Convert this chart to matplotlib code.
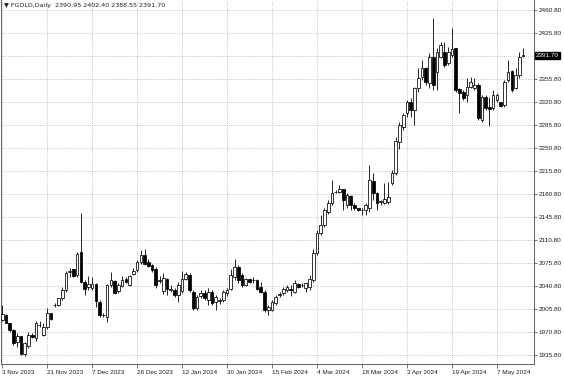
import numpy as np
import matplotlib
matplotlib.use("Agg")
import matplotlib.pyplot as plt

# daily OHLC, one row per bar
opens = [1989, 1997, 1984, 1974, 1955, 1964, 1938, 1950, 1966, 1961,
         1981.5, 1966, 1979, 1999, 2012, 2012, 2022, 2035, 2062.6, 2066,
         2058, 2093, 2047, 2039, 2037, 2044, 2017, 1997, 1994, 2042,
         2048, 2033, 2041, 2052, 2042, 2059, 2065, 2078, 2088, 2078,
         2072.5, 2066, 2049, 2033, 2051, 2035, 2034.5, 2027, 2033, 2052,
         2058, 2032, 2007, 2025, 2030, 2019, 2032, 2017, 2018, 2019,
         2030, 2036, 2055, 2070, 2058, 2043, 2051, 2050, 2050, 2040,
         2032, 2004, 2005, 2014.5, 2027, 2030, 2035, 2036, 2032, 2044,
         2042, 2037, 2040, 2050, 2090.6, 2121, 2133.7, 2154, 2167.7, 2184,
         2184.4, 2188, 2164, 2177.8, 2164, 2159, 2156.5, 2156.5, 2160, 2201,
         2182, 2169, 2167.7, 2169, 2197, 2212, 2260.5, 2283, 2303.6, 2321.3,
         2308.6, 2341.6, 2359.4, 2372, 2349.2, 2389.8, 2367, 2389.8, 2397.4, 2379.6,
         2392.3, 2402.5, 2340.6, 2336.5, 2331.5, 2344, 2341.6, 2346.7, 2293.4, 2329,
         2313.7, 2311.2, 2323.9, 2320.3, 2316.2, 2354.3, 2368, 2341.6, 2361.9, 2390.95]
highs = [2012, 1998, 1985, 1975, 1969, 1965, 1956, 1971, 1969, 1988,
         1988, 1985, 2008, 2000, 2014.5, 2023, 2039, 2064, 2067.7, 2067,
         2093, 2152, 2050, 2056, 2055, 2045, 2019, 1999, 2044, 2062,
         2050, 2045, 2056, 2054, 2058, 2068, 2081, 2096, 2097, 2082,
         2075, 2069, 2056, 2061, 2053, 2042, 2037, 2047, 2063, 2062,
         2060, 2034, 2027, 2034, 2034, 2037, 2035, 2027, 2022, 2035,
         2037, 2066, 2082, 2073, 2060, 2053, 2053, 2054, 2052, 2047,
         2035, 2012, 2019, 2027, 2032, 2040, 2042, 2043, 2050, 2046,
         2045, 2047, 2058, 2097, 2126, 2149, 2159, 2172, 2202, 2187,
         2194, 2189, 2182, 2179, 2166.7, 2160, 2159, 2166.7, 2225, 2212,
         2184, 2171.7, 2197, 2199.6, 2217, 2268, 2290, 2303.6, 2324, 2326.4,
         2344, 2372, 2384.7, 2374.6, 2394.9, 2448, 2402.5, 2412.6, 2412.6, 2405,
         2432.9, 2402.5, 2341.6, 2339, 2356.8, 2359.4, 2356.8, 2349.2, 2331.5, 2331.5,
         2329, 2339, 2334, 2321.3, 2354.3, 2384.7, 2369.5, 2372, 2397.4, 2402.4]
lows = [1987, 1984, 1971, 1951, 1948, 1936, 1935, 1946, 1961, 1957.6,
        1978, 1964, 1976, 1989, 2009.4, 2010, 2019.5, 2032, 2055, 2055,
        2055, 2045, 2027, 2035, 2035, 2009, 1994, 1993, 1986.5, 2039,
        2028, 2030, 2039, 2046, 2041, 2057.6, 2062.7, 2075, 2072.7, 2069,
        2062, 2037, 2045, 2029, 2027, 2031, 2024.5, 2017, 2030, 2050,
        2032, 2004, 2004, 2022, 2020, 2012, 2012, 2004, 2014, 2017,
        2025, 2034, 2050, 2045, 2040, 2041, 2045, 2045, 2034, 2030,
        2001, 1997, 2003, 2012, 2024, 2027, 2031, 2025, 2030, 2038,
        2039, 2032, 2035, 2047.5, 2088, 2118, 2131, 2151, 2164, 2182,
        2182, 2156.5, 2159, 2156.5, 2156.5, 2155, 2149, 2149, 2154, 2172,
        2156.5, 2164, 2166, 2166, 2194.5, 2210, 2250, 2278.2, 2298.5, 2298.5,
        2285.8, 2336.5, 2354.3, 2346.7, 2341.6, 2339, 2339, 2387.3, 2374.6, 2377,
        2389.8, 2336.5, 2303.6, 2323.9, 2321.3, 2341.6, 2339, 2293.4, 2290.9, 2308.6,
        2284.3, 2308.6, 2321.3, 2313.7, 2313.7, 2351.7, 2336.5, 2340, 2356.8, 2388.55]
closes = [1998, 1985, 1974, 1954, 1964, 1938, 1953.5, 1966, 1963, 1984,
          1981, 1979, 1999, 1990, 2012.5, 2022, 2035, 2061, 2063, 2056,
          2089, 2047, 2036, 2044, 2044, 2018, 1997, 1996, 2042, 2050,
          2030, 2042, 2050, 2047.5, 2056, 2064, 2078, 2088, 2075, 2071,
          2065, 2042, 2050, 2053, 2036, 2035.5, 2027.5, 2042, 2052, 2059,
          2034, 2007, 2024, 2030, 2022, 2032, 2015, 2024, 2019, 2032,
          2035, 2058, 2070, 2050, 2042, 2051, 2047, 2050.5, 2036, 2032,
          2004, 2009, 2017, 2024.6, 2029, 2036, 2040, 2035, 2045, 2040,
          2042.5, 2045, 2052, 2090.6, 2121, 2133.7, 2156.5, 2167.7, 2183, 2184.5,
          2188, 2171.7, 2179.3, 2164, 2159, 2156.5, 2157, 2164, 2202, 2182,
          2166.7, 2169.5, 2172.7, 2176.8, 2212.3, 2262, 2285.8, 2301, 2321.3, 2308.6,
          2341.6, 2356.8, 2372, 2351.7, 2389.8, 2346.7, 2397.4, 2407.5, 2377, 2397.4,
          2401, 2339, 2334, 2326.4, 2344, 2351.7, 2346.7, 2296, 2329, 2311.2,
          2309.7, 2331.5, 2331.5, 2315.2, 2351.7, 2367, 2339, 2361.9, 2389.8, 2391.7]

date_labels = ["3 Nov 2023", "21 Nov 2023", "7 Dec 2023", "26 Dec 2023",
               "12 Jan 2024", "30 Jan 2024", "15 Feb 2024", "4 Mar 2024",
               "18 Mar 2024", "3 Apr 2024", "19 Apr 2024", "7 May 2024"]
date_label_bars = [0, 12, 24, 36, 48, 60, 72, 84, 96, 108, 120, 132]
price_ticks = [1935.8 + 35 * k for k in range(16)]
last_price = 2391.70
header = "\u25bc FGOLD,Daily  2390.95 2402.40 2388.55 2391.70"

FS = 4.6
GRID = '#b0b0b0'
plt.rcParams['font.family'] = ['Liberation Sans', 'DejaVu Sans']

o = np.array(opens); h = np.array(highs); l = np.array(lows); c = np.array(closes)
idx = np.arange(len(o))

fig = plt.figure(figsize=(5.64, 3.76), dpi=100)
ax = fig.add_axes([0.5 / 564, 12 / 376, 533.5 / 564, 364 / 376])

# grid
for p in price_ticks:
    ax.axhline(p, color=GRID, lw=0.6, ls=(0, (1, 1.6)), zorder=0)
for b in date_label_bars:
    ax.axvline(b, color=GRID, lw=0.6, ls=(0, (1, 1.6)), zorder=0)

# candles
ax.vlines(idx, l, h, color='black', lw=0.6, zorder=2)
body_lo = np.minimum(o, c)
body_h = np.maximum(np.abs(c - o), 0.01)
fills = ['white' if cc >= oo else 'black' for oo, cc in zip(o, c)]
ax.bar(idx, body_h, bottom=body_lo, width=0.72, color=fills,
       edgecolor='black', linewidth=0.55, zorder=3)

ax.set_xlim(-0.45, 141.9)
ax.set_ylim(1922.1, 2476.0)

# price axis on the right
ax.yaxis.tick_right()
shown = [p for p in price_ticks if abs(p - last_price) > 5]
ax.set_yticks(shown)
ax.set_yticklabels([f"{p:.2f}" for p in shown], fontsize=FS, color='#202020')
ax.tick_params(axis='y', length=2, width=0.5, pad=1.5, color='#404040')

ax.set_xticks(date_label_bars)
ax.set_xticklabels(date_labels, fontsize=FS, color='#202020')
for t in ax.get_xticklabels():
    t.set_horizontalalignment('left')
ax.tick_params(axis='x', length=3, width=0.5, pad=1.5, color='#404040')

for s in ['left', 'right', 'bottom']:
    ax.spines[s].set_color('#606060')
    ax.spines[s].set_linewidth(0.7)
ax.spines['top'].set_visible(False)

# current price tag
ax.text(1.003, last_price, f"{last_price:.2f}", transform=ax.get_yaxis_transform(),
        fontsize=FS, color='white', va='center', ha='left',
        bbox=dict(boxstyle='square,pad=0.15', fc='black', ec='black'))

fig.text(4 / 564, 1 - 6 / 376, header, fontsize=FS, va='center', ha='left',
         color='#202020', family=['DejaVu Sans'])

fig.savefig("out.png", dpi=100, facecolor='white')
